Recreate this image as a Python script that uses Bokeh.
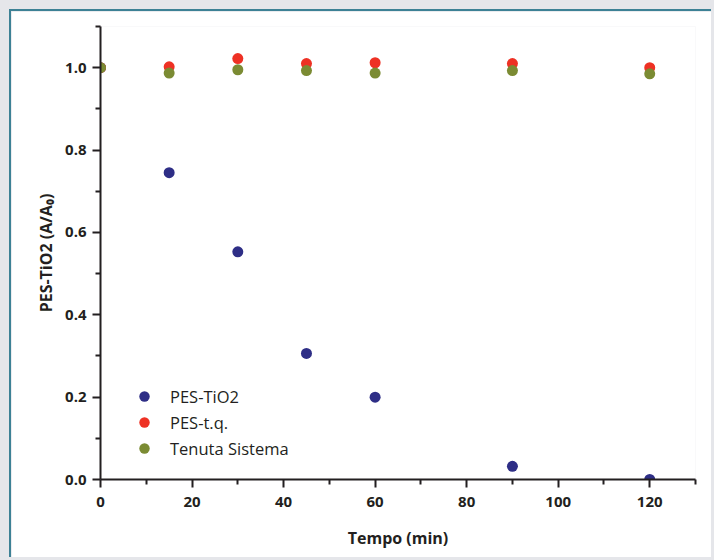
from bokeh.plotting import figure
from bokeh.models import Range1d, FixedTicker, PrintfTickFormatter, Legend, LegendItem
from bokeh.embed import file_html
from bokeh.resources import INLINE

# ---- data ----
time_min = [0, 15, 30, 45, 60, 90, 120]
pes_tio2 = [1.0, 0.745, 0.553, 0.306, 0.200, 0.032, 0.0]
pes_tq = [1.0, 1.002, 1.022, 1.010, 1.012, 1.010, 1.000]
tenuta = [1.0, 0.987, 0.995, 0.993, 0.987, 0.993, 0.985]

series_names = ["PES-TiO2", "PES-t.q.", "Tenuta Sistema"]
series_colors = ["#2e2e86", "#ee3124", "#7b8b33"]

x_major = [0, 20, 40, 60, 80, 100, 120]
x_minor = [10, 30, 50, 70, 90, 110, 130]
y_major = [0.0, 0.2, 0.4, 0.6, 0.8, 1.0]
y_minor = [0.1, 0.3, 0.5, 0.7, 0.9, 1.1]

FONT = "Open Sans"
INK = "#231f20"

p = figure(width=702, height=548, output_backend="svg", toolbar_location=None,
           x_range=Range1d(0, 130), y_range=Range1d(0, 1.1),
           min_border_left=89, min_border_right=18, min_border_top=15, min_border_bottom=80)
p.outline_line_color = None
p.xgrid.visible = False
p.ygrid.visible = False
p.background_fill_color = "white"
p.border_fill_color = "white"
p.styles = {"margin-left": "9px", "margin-top": "9px",
            "border-left": "2px solid #3d8195", "border-top": "2px solid #3d8195"}

renderers = []
for ys, c in zip([pes_tio2, pes_tq, tenuta], series_colors):
    r = p.scatter(time_min, ys, size=11, fill_color=c, line_color=c, line_width=0)
    renderers.append(r)

for ax in (p.xaxis[0], p.yaxis[0]):
    ax.axis_line_color = INK
    ax.axis_line_width = 2
    ax.major_tick_line_color = INK
    ax.major_tick_line_width = 2
    ax.minor_tick_line_color = INK
    ax.minor_tick_line_width = 2
    ax.major_tick_in = 0
    ax.major_tick_out = 8
    ax.minor_tick_in = 0
    ax.minor_tick_out = 5
    ax.major_label_text_font = FONT
    ax.major_label_text_font_style = "bold"
    ax.major_label_text_font_size = "15px"
    ax.major_label_text_color = INK
    ax.axis_label_text_font = FONT
    ax.axis_label_text_font_style = "bold"
    ax.axis_label_text_color = INK

p.xaxis.ticker = FixedTicker(ticks=x_major, minor_ticks=x_minor)
p.yaxis.ticker = FixedTicker(ticks=y_major, minor_ticks=y_minor)
p.yaxis.formatter = PrintfTickFormatter(format="%.1f")
p.xaxis.major_label_standoff = 9
p.yaxis.major_label_standoff = 6
p.xaxis.axis_label = "Tempo (min)"
p.xaxis.axis_label_text_font_size = "16px"
p.xaxis.axis_label_standoff = 17
p.yaxis.axis_label = "PES-TiO2 (A/A\u2080)"
p.yaxis.axis_label_text_font_size = "16px"
p.yaxis.axis_label_standoff = 5

legend = Legend(items=[LegendItem(label=n, renderers=[r]) for n, r in zip(series_names, renderers)],
                location=(31, 18), border_line_color=None, background_fill_alpha=0,
                padding=0, margin=0, spacing=0, glyph_width=26, glyph_height=26,
                label_height=26, label_standoff=13,
                label_text_font=FONT, label_text_font_size="16.5px", label_text_color=INK)
p.add_layout(legend, "center")

html = file_html(p, INLINE)
html = html.replace("<head>", "<head><style>body{background:#e5e6ea;}</style>", 1)
open("out.html", "w").write(html)
